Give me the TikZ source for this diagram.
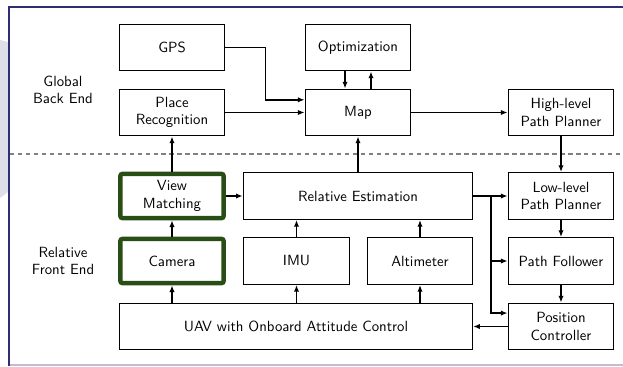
\documentclass[tikz,border=0pt]{standalone}
\usepackage{tikz}
\usetikzlibrary{arrows.meta}
\definecolor{framenavy}{RGB}{45,45,120}
\definecolor{framelav}{RGB}{190,190,215}
\definecolor{sidegray}{RGB}{222,222,232}
\definecolor{camgreen}{RGB}{40,78,22}
\tikzset{
  blk/.style={draw, line width=0.7pt, minimum width=71.7pt, minimum height=31.8pt,
    align=center, font=\sffamily, inner sep=1pt},
  hilite/.style={blk, draw=camgreen, line width=3pt, rounded corners=1.5pt,
    minimum width=70pt, minimum height=30pt},
  link/.style={-{Latex[length=4.5pt,width=3.6pt]}, line width=1pt},
  zone/.style={align=center, font=\sffamily}
}
\begin{document}
\begin{tikzpicture}[x=0.0238cm, y=-0.0238cm]
	\useasboundingbox (0,0) rectangle (623,366);
	% slide frame
	\fill[sidegray] (0,40) -- (8,42) -- (8,192) -- (0,198) -- cycle;
	\draw[framelav, line width=1.3pt] (9,365) -- (623,365);
	\draw[framenavy, line width=1.4pt] (623,7) -- (9,7) -- (9,366);
	\draw[gray, line width=0.8pt, dash pattern=on 3pt off 2.4pt] (10,154) -- (623,154);
	% zones
	\node[zone] (backend) at (63,90) {Global\\Back End};
	\node[zone] (frontend) at (63,261) {Relative\\Front End};
	% global back end
	\node[blk] (gps) at (172,47.5) {GPS};
	\node[blk] (place) at (172,112.5) {Place\\Recognition};
	\node[blk] (opt) at (358,47.5) {Optimization};
	\node[blk] (map) at (358,112.5) {Map};
	\node[blk] (high) at (561,112.5) {High-level\\Path Planner};
	% relative front end
	\node[hilite] (view) at (172,196) {View\\Matching};
	\node[blk, minimum width=155.5pt] (rel) at (358,196) {Relative Estimation};
	\node[blk] (low) at (561,196) {Low-level\\Path Planner};
	\node[hilite] (cam) at (172,261) {Camera};
	\node[blk] (imu) at (296.5,261) {IMU};
	\node[blk] (alti) at (420,261) {Altimeter};
	\node[blk] (follow) at (561,261) {Path Follower};
	\node[blk, minimum width=239.3pt] (uav) at (296,326.5) {UAV with Onboard Attitude Control};
	\node[blk] (pos) at (561,326.5) {Position\\Controller};
	\coordinate (split) at (491,196);
	% connections
	\draw[link] (gps.east) -- ++(40,0) |- ([yshift=8.6pt]map.west);
	\draw[link] (place) -- (map);
	\draw[link] ([xshift=-8.8pt]opt.south) -- ([xshift=-8.8pt]map.north);
	\draw[link] ([xshift=8.8pt]map.north) -- ([xshift=8.8pt]opt.south);
	\draw[link] (map) -- (high);
	\draw[link] (high) -- (low);
	\draw[link] (view) -- (place);
	\draw[link] (rel) -- (map);
	\draw[link] (view) -- (rel);
	\draw[link] (cam) -- (view);
	\draw[link] (imu) -- (imu |- rel.south);
	\draw[link] (alti) -- (alti |- rel.south);
	\draw[link] (cam |- uav.north) -- (cam);
	\draw[link] (imu |- uav.north) -- (imu);
	\draw[link] (alti |- uav.north) -- (alti);
	\draw[link] (rel) -- (low);
	\draw[link] (split) |- (follow.west);
	\draw[link] (split) |- ([yshift=9.1pt]pos.west);
	\draw[link] (low) -- (follow);
	\draw[link] (follow) -- (pos);
	\draw[link] (pos) -- (uav);
\end{tikzpicture}
\end{document}
